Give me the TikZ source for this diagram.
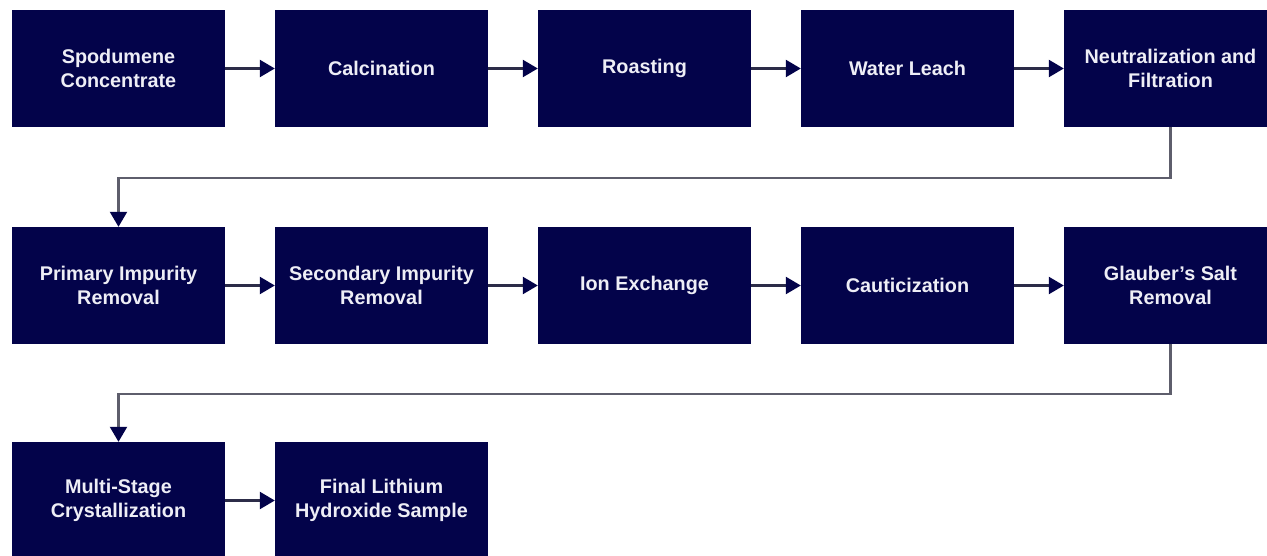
\documentclass[tikz,border=0pt]{standalone}
\usepackage{fontspec}
\setmainfont{Liberation Sans}
\usetikzlibrary{arrows.meta}
\definecolor{boxnavy}{HTML}{03034A}
\definecolor{txtc}{HTML}{EEEEF6}
\definecolor{connc}{HTML}{5E5E6C}
\definecolor{harrow}{HTML}{2C2C48}
\begin{document}
\begin{tikzpicture}[x=1pt,y=-1pt,
  stepbox/.style={fill=boxnavy, draw=none, minimum width=213pt, minimum height=117pt,
    inner sep=0pt, text=txtc, font=\fontsize{19.8}{24}\selectfont\bfseries, align=center},
  flow/.style={draw=harrow, line width=2.4pt, -{Triangle[length=15pt,width=17pt,color=boxnavy]}},
  wrap/.style={draw=connc, line width=2.2pt, -{Triangle[length=15pt,width=17pt,color=boxnavy]}}
]
\useasboundingbox (0,0) rectangle (1267,556);
\clip (0,0) rectangle (1267,556);
\fill[white] (0,0) rectangle (1267,556);
% row 1
\node[stepbox] (n1) at (118.5,68.5) {Spodumene\\Concentrate};
\node[stepbox] (n2) at (381.5,68.5) {Calcination};
\node[stepbox] (n3) at (644.5,68.5) {Roasting};
\node[stepbox] (n4) at (907.5,68.5) {Water Leach};
\node[stepbox] (n5) at (1170.5,68.5) {Neutralization and\\Filtration};
% row 2
\node[stepbox] (p1) at (118.5,285.5) {Primary Impurity\\Removal};
\node[stepbox] (p2) at (381.5,285.5) {Secondary Impurity\\Removal};
\node[stepbox] (p3) at (644.5,285.5) {Ion Exchange};
\node[stepbox] (p4) at (907.5,285.5) {Cauticization};
\node[stepbox] (p5) at (1170.5,285.5) {Glauber's Salt\\Removal};
% row 3
\node[stepbox] (q1) at (118.5,500.5) {Multi-Stage\\Crystallization};
\node[stepbox] (q2) at (381.5,500.5) {Final Lithium\\Hydroxide Sample};
% connectors
\draw[flow] (n1) -- (n2);
\draw[flow] (n2) -- (n3);
\draw[flow] (n3) -- (n4);
\draw[flow] (n4) -- (n5);
\draw[wrap] (n5.south) -- ++(0,50.5) -| (p1.north);
\draw[flow] (p1) -- (p2);
\draw[flow] (p2) -- (p3);
\draw[flow] (p3) -- (p4);
\draw[flow] (p4) -- (p5);
\draw[wrap] (p5.south) -- ++(0,50) -| (q1.north);
\draw[flow] (q1) -- (q2);
\end{tikzpicture}
\end{document}
